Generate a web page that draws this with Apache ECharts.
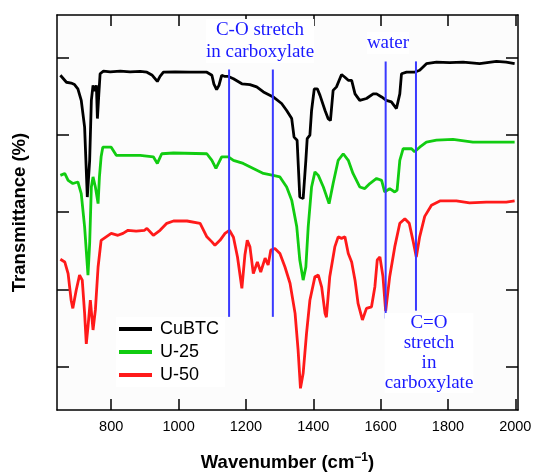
<!DOCTYPE html>
<html>
<head>
<meta charset="utf-8">
<script src="https://cdn.jsdelivr.net/npm/echarts@6/dist/echarts.min.js"></script>
<style>
  html, body { margin: 0; padding: 0; background: #ffffff; }
  #chart { width: 535px; height: 473px; }
</style>
</head>
<body>
<div id="chart"></div>
<script>
// FTIR spectra, wavenumber (cm-1) vs transmittance (%, offset per sample)
const cubtcWn = [649, 667, 681, 691, 701, 711, 721, 729, 736, 741, 746, 748, 751, 756, 759, 763, 767, 777, 797, 827, 856, 886, 906, 922, 937, 945, 955, 990, 1034, 1084, 1099, 1105, 1113, 1120, 1128, 1138, 1148, 1163, 1188, 1212, 1232, 1252, 1281, 1306, 1321, 1336, 1343, 1352, 1360, 1370, 1378, 1382, 1390, 1395, 1403, 1412, 1420, 1435, 1444, 1451, 1459, 1469, 1484, 1494, 1504, 1514, 1524, 1538, 1558, 1578, 1588, 1603, 1617, 1632, 1647, 1657, 1662, 1677, 1701, 1716, 1736, 1766, 1805, 1845, 1894, 1944, 1973, 1998];
const cubtcT = [95.4, 93.6, 93.4, 93.0, 91.9, 88.9, 82.0, 63.9, 73.4, 88.9, 92.8, 92.8, 91.3, 92.8, 84.2, 90.2, 95.8, 96.5, 96.3, 96.5, 96.3, 96.4, 96.2, 95.4, 93.8, 95.1, 96.2, 96.3, 96.2, 96.2, 95.4, 93.1, 91.7, 92.8, 95.4, 95.1, 95.1, 94.5, 93.2, 93.0, 92.4, 91.1, 89.8, 88.1, 86.3, 84.2, 79.4, 78.6, 63.9, 63.5, 73.4, 79.0, 79.9, 86.3, 91.9, 91.9, 90.2, 86.3, 84.2, 83.7, 91.5, 92.4, 95.6, 94.9, 94.1, 94.1, 90.6, 88.9, 89.4, 90.6, 90.6, 89.8, 88.9, 88.5, 86.8, 90.6, 95.8, 96.2, 96.2, 96.7, 98.4, 98.8, 98.7, 98.8, 98.4, 99.0, 98.8, 98.4];

const u25Wn = [649, 662, 672, 686, 701, 711, 721, 731, 736, 741, 746, 753, 761, 765, 770, 775, 800, 815, 835, 886, 925, 937, 950, 985, 1084, 1099, 1111, 1128, 1148, 1163, 1192, 1222, 1252, 1281, 1301, 1321, 1336, 1351, 1360, 1370, 1378, 1385, 1395, 1405, 1415, 1430, 1447, 1459, 1474, 1489, 1504, 1518, 1538, 1553, 1568, 1588, 1603, 1612, 1627, 1642, 1649, 1657, 1667, 1692, 1701, 1716, 1736, 1766, 1815, 1874, 1934, 1998];
const u25T = [69.5, 70.0, 68.2, 67.4, 67.8, 64.8, 56.2, 43.7, 51.9, 66.5, 69.1, 66.5, 62.2, 69.1, 74.3, 76.8, 76.8, 74.7, 74.7, 74.7, 74.3, 72.6, 75.1, 75.3, 75.1, 73.4, 71.3, 74.3, 74.3, 73.4, 72.6, 71.3, 70.0, 69.5, 69.1, 66.5, 63.1, 56.2, 47.6, 42.4, 45.8, 56.2, 66.5, 70.4, 69.5, 66.5, 62.2, 67.4, 73.4, 75.1, 73.4, 70.0, 66.5, 66.1, 67.4, 68.7, 68.2, 65.2, 66.1, 65.2, 65.7, 73.4, 76.4, 76.4, 75.6, 76.8, 78.1, 78.6, 78.8, 78.1, 78.1, 78.1];

const u50Wn = [649, 662, 672, 681, 686, 696, 706, 714, 721, 726, 731, 738, 746, 753, 761, 770, 785, 800, 820, 835, 850, 874, 899, 906, 925, 945, 965, 985, 1025, 1064, 1084, 1099, 1108, 1123, 1138, 1151, 1163, 1175, 1188, 1197, 1204, 1212, 1222, 1234, 1244, 1257, 1266, 1274, 1286, 1301, 1316, 1331, 1346, 1355, 1362, 1370, 1380, 1390, 1405, 1415, 1425, 1435, 1439, 1449, 1464, 1474, 1484, 1494, 1504, 1514, 1524, 1533, 1546, 1558, 1573, 1583, 1590, 1598, 1607, 1615, 1627, 1642, 1657, 1672, 1685, 1696, 1706, 1716, 1731, 1751, 1776, 1825, 1864, 1914, 1973, 1998];
const u50T = [47.8, 47.1, 44.1, 37.2, 35.1, 39.8, 43.7, 42.4, 33.8, 25.9, 30.3, 37.2, 29.5, 34.7, 45.8, 52.7, 53.6, 54.5, 54.0, 54.5, 55.3, 55.1, 55.3, 55.8, 54.0, 55.3, 57.1, 57.7, 57.7, 57.1, 53.6, 52.3, 51.4, 52.7, 54.5, 55.3, 53.5, 48.4, 40.3, 48.9, 52.7, 51.0, 44.1, 47.1, 44.5, 48.1, 46.3, 50.2, 50.6, 49.3, 45.8, 41.6, 33.8, 24.3, 14.4, 18.3, 28.6, 37.2, 43.3, 43.7, 40.6, 33.8, 32.8, 43.3, 51.0, 53.6, 53.2, 53.6, 49.3, 47.1, 42.4, 36.4, 32.1, 35.1, 35.5, 40.7, 47.6, 48.4, 43.3, 34.4, 43.3, 51.0, 57.1, 58.3, 57.1, 52.7, 48.4, 53.6, 58.9, 61.8, 62.9, 62.9, 62.4, 62.6, 62.6, 62.9];

// Band positions marked with vertical guide lines (cm-1) and their extent (%)
const bandWn = [1150, 1280, 1615, 1705];
const bandTop = [96.9, 96.9, 99.0, 99.0];
const bandBottom = [32.9, 32.9, 32.5, 34.5];

const xTicks = [800, 1000, 1200, 1400, 1600, 1800, 2000];
const yTicks = [20, 40, 60, 80, 100];
const xRange = [639, 2008];
const yRange = [8.8, 111];

const zip = (xs, ys) => xs.map((x, i) => [x, ys[i]]);

const BLUE = '#3a3aff';
const TEXT_BLUE = '#1a1aff';
const FONT = '"Liberation Sans", Arial, sans-serif';
const SERIF = '"Liberation Serif", "Times New Roman", serif';

const frameLine = { show: true, lineStyle: { color: '#000', width: 1.5 } };

function xAx(pos, main) {
  return {
    type: 'value', position: pos, min: xRange[0], max: xRange[1],
    axisLine: frameLine,
    axisTick: { show: true, inside: true, length: 11, customValues: xTicks, lineStyle: { color: '#000', width: 1.5 } },
    axisLabel: main ? {
      show: true, customValues: xTicks, color: '#000', fontSize: 14.5, fontFamily: FONT, margin: 9,
      formatter: v => String(v)
    } : { show: false },
    splitLine: { show: false },
    name: main ? 'Wavenumber (cm{sup|\u22121})' : '',
    nameLocation: 'middle', nameGap: 42,
    nameTextStyle: {
      color: '#000', fontSize: 18.5, fontWeight: 'bold', fontFamily: FONT,
      rich: { sup: { fontSize: 12, fontWeight: 'bold', fontFamily: FONT, color: '#000', verticalAlign: 'top', padding: [0, 0, 10, 0] } }
    }
  };
}
function yAx(pos, main) {
  return {
    type: 'value', position: pos, min: yRange[0], max: yRange[1],
    axisLine: frameLine,
    axisTick: { show: true, inside: true, length: 12, customValues: yTicks, lineStyle: { color: '#000', width: 1.5 } },
    axisLabel: { show: false },
    splitLine: { show: false },
    name: main ? 'Transmittance (%)' : '',
    nameLocation: 'middle', nameGap: 28,
    nameTextStyle: { color: '#000', fontSize: 18.5, fontWeight: 'bold', fontFamily: FONT }
  };
}

const spectrum = (name, color, xs, ys) => ({
  name, type: 'line', data: zip(xs, ys), showSymbol: false, symbol: 'none',
  lineStyle: { color, width: 2.8 }, itemStyle: { color }, z: 3, animation: false
});

const bandSeries = bandWn.map((wn, i) => ({
  type: 'line', data: [[wn, bandTop[i]], [wn, bandBottom[i]]], showSymbol: false, symbol: 'none',
  lineStyle: { color: BLUE, width: 2 }, z: 5, silent: true, animation: false
}));

const note = (text, x, y, lh) => ({
  type: 'text', x, y, z: 10,
  style: { text, fill: TEXT_BLUE, font: '19px ' + SERIF, align: 'center', lineHeight: lh, backgroundColor: '#fff' }
});

const chart = echarts.init(document.getElementById('chart'), null, { renderer: 'canvas' });
chart.setOption({
  backgroundColor: '#ffffff',
  animation: false,
  grid: {
    left: 57, top: 15, width: 461, height: 395,
    outerBoundsMode: 'none', containLabel: false,
    show: true, backgroundColor: '#fcfcfc', borderWidth: 0
  },
  xAxis: [xAx('bottom', true), xAx('top', false)],
  yAxis: [yAx('left', true), yAx('right', false)],
  legend: {
    data: ['CuBTC', 'U-25', 'U-50'], orient: 'vertical', left: 116, top: 317,
    icon: 'rect', itemWidth: 33, itemHeight: 4, itemGap: 5,
    backgroundColor: '#fff', padding: [3, 6, 3, 3],
    textStyle: { color: '#000', fontSize: 18, fontFamily: FONT, padding: [0, 0, 0, 3] }
  },
  graphic: [
    note('C-O stretch\nin carboxylate', 260, 19, 22),
    note('water', 388, 32, 22),
    note('C=O\nstretch\nin\ncarboxylate', 429, 313, 20)
  ],
  series: [
    spectrum('CuBTC', '#000000', cubtcWn, cubtcT),
    spectrum('U-25', '#11cc11', u25Wn, u25T),
    spectrum('U-50', '#ff1a1a', u50Wn, u50T),
    ...bandSeries
  ]
});
</script>
</body>
</html>
